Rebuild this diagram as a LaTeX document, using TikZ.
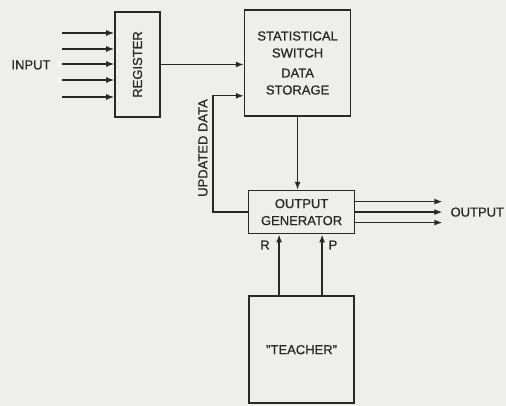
\documentclass[tikz,border=0pt]{standalone}
\usepackage{fontspec}
\setmainfont[RawFeature={embolden=0.7}]{Liberation Sans}
\usepackage{xcolor}
\usepackage{tikz}
\usetikzlibrary{arrows.meta, positioning, calc}

\definecolor{paper}{RGB}{238,238,236}
\definecolor{ink}{RGB}{40,40,40}

\begin{document}
\begin{tikzpicture}[
        x=1pt, y=-1pt,
        % Define styles for the nodes
        block/.style={rectangle, draw=ink, line width=1.6pt, align=center, inner sep=0pt,
            font=\fontsize{13}{17}\selectfont, text=ink},
        label_node/.style={font=\fontsize{13}{16}\selectfont, text=ink, inner sep=0pt},
        % Styles for arrows
        arrow/.style={-{Latex[length=8pt, width=6pt]}, draw=ink, line width=1.4pt}
    ]

    % background and page size
    \fill[paper] (0,0) rectangle (506,406);
    \useasboundingbox (0,0) rectangle (506,406);

    % =========================================================================
    % INPUT & REGISTER
    % =========================================================================
    \node (reg) [block, minimum width=45pt, minimum height=105pt] at (137.5,64.5)
        {\rotatebox{90}{REGISTER}};

    \node (input_lbl) [label_node] at (31,65) {INPUT};

    \foreach \y [count=\i] in {33,49,64,80,97} {
        \coordinate (in\i) at (62,\y);
        \draw [arrow] (in\i) -- (in\i -| reg.west);
    }

    % =========================================================================
    % STORAGE & OUTPUT GENERATOR
    % =========================================================================
    \node (store) [block, minimum width=106pt, minimum height=106pt, right=83pt of reg, yshift=1.5pt]
        {STATISTICAL\\SWITCH\\[3pt]DATA\\STORAGE};
    \draw [arrow] (reg.east) -- (reg.east -| store.west);

    \node (gen) [block, minimum width=106pt, minimum height=43pt, below=73pt of store, xshift=4pt]
        {OUTPUT\\GENERATOR};
    \draw [arrow] (store.south) -- (store.south |- gen.north);

    % feedback of updated data
    \draw [arrow] (gen.west) -- ++(-35,0) |- ([yshift=21pt]store.south west);
    \node (upd_lbl) [label_node, rotate=90] at (203,148) {UPDATED DATA};

    % outputs
    \foreach \dy [count=\i] in {10.5,0,-10.5} {
        \coordinate (out\i) at ([yshift=\dy pt, xshift=87pt]gen.east);
        \draw [arrow] ([yshift=\dy pt]gen.east) -- (out\i);
    }
    \node (output_lbl) [label_node, right=8pt of out2] {OUTPUT};

    % =========================================================================
    % TEACHER
    % =========================================================================
    \node (teach) [block, minimum width=105pt, minimum height=107pt, below=61pt of gen]
        {\symbol{"22}TEACHER\symbol{"22}};

    \draw [arrow] ([xshift=-22.5pt]teach.north) -- ([xshift=-22.5pt]teach.north |- gen.south);
    \draw [arrow] ([xshift=20.5pt]teach.north) -- ([xshift=20.5pt]teach.north |- gen.south);
    \node (r_lbl) [label_node] at (265,245) {R};
    \node (p_lbl) [label_node] at (333,245) {P};

\end{tikzpicture}
\end{document}
